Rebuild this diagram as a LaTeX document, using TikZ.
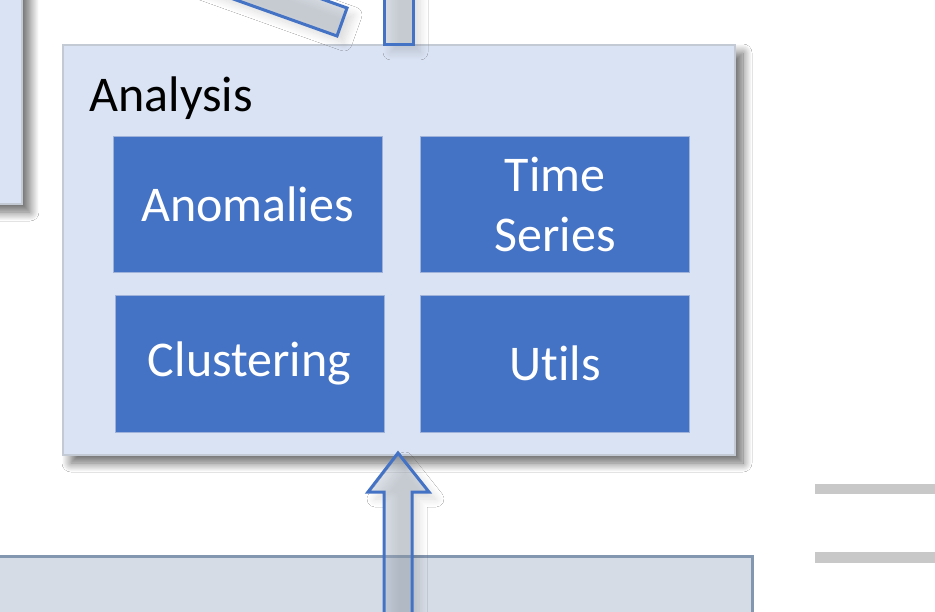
\documentclass[tikz,border=0pt]{standalone}
\usepackage{fontspec}
\setmainfont{Carlito}[Ligatures=NoCommon]
\usetikzlibrary{shadows.blur}

\definecolor{panelfill}{HTML}{DAE3F3}
\definecolor{paneledge}{HTML}{C4CAD4}
\definecolor{modfill}{HTML}{4472C4}
\definecolor{modedge}{HTML}{9FB2D9}
\definecolor{corefill}{HTML}{D6DCE5}
\definecolor{coreedge}{HTML}{8497B0}
\definecolor{shaftfill}{HTML}{A9B5C6}
\definecolor{barfill}{HTML}{C8C8C8}

\begin{document}
\begin{tikzpicture}[x=1pt, y=-1pt,
    soft/.style={blur shadow={shadow xshift=8pt, shadow yshift=-8pt,
        shadow blur radius=9pt, shadow blur steps=16, shadow opacity=60}},
    faint/.style={blur shadow={shadow xshift=7pt, shadow yshift=-7pt,
        shadow blur radius=8pt, shadow blur steps=12, shadow opacity=14}},
    panel/.style={soft, rectangle, fill=panelfill, draw=paneledge, line width=1.2pt},
    module/.style={rectangle, fill=modfill, draw=modedge, line width=.8pt,
        minimum width=269pt, minimum height=136pt, inner sep=0pt,
        text=white, align=center, font=\fontsize{50}{60}\selectfont},
    core/.style={rectangle, fill=corefill, draw=coreedge, line width=3pt},
    shaft/.style={faint, draw=modfill, line width=3pt, fill=shaftfill, fill opacity=.42},
    bar/.style={fill=barfill},
]
    \clip (0,0) rectangle (935,612);
    \fill[white] (0,0) rectangle (935,612);

    % panels
    \node [panel, minimum width=82pt, minimum height=264pt] (left) at (-19,72) {};
    \node [core, minimum width=772pt, minimum height=143pt] (core) at (366,628) {};
    \node [panel, minimum width=672pt, minimum height=410pt] (analysis) at (399,250) {};
    \node [anchor=base west, font=\fontsize{50}{60}\selectfont] (title) at (86,112) {Analysis};

    % modules
    \node [module] (anomalies) at (247.5,204) {Anomalies};
    \node [module] (timeseries) at (555,204) {Time\\Series};
    \node [module, minimum height=137pt] (clustering) at (249.5,363.5) {Clustering};
    \node [module, minimum height=137pt] (utils) at (555,363.5) {Utils};

    % arrows
    \draw [shaft] (347,8) -- (337,36) -- ++(-283,-101) -- ++(10,-28) -- cycle;
    \draw [shaft] (384,45) rectangle (413,-60);
    \coordinate (tip) at (398,453);
    \draw [shaft] (tip) -- ++(31,39) -- ++(-17,0) -- ++(0,170) -- ++(-28,0)
        -- ++(0,-170) -- ++(-16,0) -- cycle;

    % bars
    \fill [bar] (815,484) rectangle (940,494);
    \fill [bar] (815,552) rectangle (940,563);
\end{tikzpicture}
\end{document}
